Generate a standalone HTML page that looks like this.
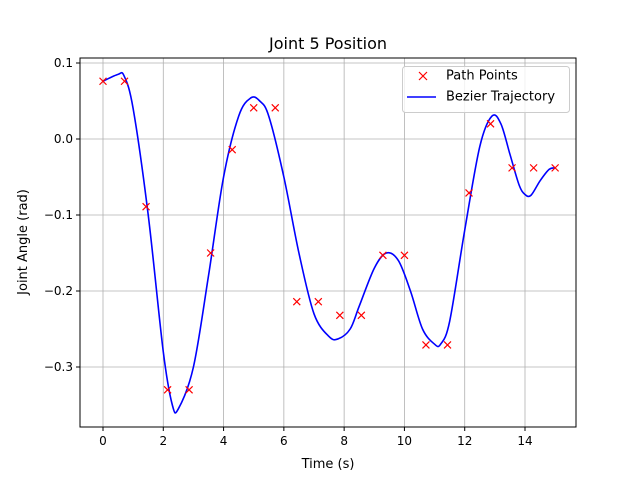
<!DOCTYPE html>
<html><head><meta charset="utf-8"><style>
body{margin:0;background:#fff;font-family:"Liberation Sans","DejaVu Sans",sans-serif}
svg text{font-family:"DejaVu Sans","Liberation Sans",sans-serif}
</style></head><body>
<svg id="chart" width="640" height="480" xmlns="http://www.w3.org/2000/svg">
<rect width="640" height="480" fill="#fff"/>
<g id="grid"></g><g id="series"></g><g id="axes"></g>
<text x="328" y="49" font-size="16" text-anchor="middle">Joint 5 Position</text>
<text x="328" y="468" font-size="13" text-anchor="middle">Time (s)</text>
<text transform="translate(27,242) rotate(-90)" font-size="13" text-anchor="middle">Joint Angle (rad)</text>
<g>
<rect x="402.5" y="66.5" width="167" height="46" fill="#fff" fill-opacity="0.8" stroke="#ccc" rx="3"/>
<path d="M419,72L427,80M419,80L427,72" stroke="red" stroke-width="1.2"/>
<text x="446" y="76" font-size="13" dominant-baseline="middle">Path Points</text>
<line x1="407" y1="97" x2="436" y2="97" stroke="blue" stroke-width="1.5"/>
<text x="446" y="97" font-size="13" dominant-baseline="middle">Bezier Trajectory</text>
</g>
</svg>
<script>
const xTicks=[0,2,4,6,8,10,12,14];
const yTicks=[0.1,0.0,-0.1,-0.2,-0.3];
const yTickLabels=["0.1","0.0","−0.1","−0.2","−0.3"];
const pointT=[0,0.714,1.429,2.143,2.857,3.571,4.286,5,5.714,6.429,7.143,7.857,8.571,9.286,10,10.714,11.429,12.143,12.857,13.571,14.286,15];
const pointY=[0.076,0.076,-0.089,-0.330,-0.330,-0.150,-0.014,0.041,0.041,-0.214,-0.214,-0.232,-0.232,-0.153,-0.153,-0.271,-0.271,-0.071,0.020,-0.038,-0.038,-0.038];
const curveT=[0,0.5,0.7,1,1.5,2,2.3,2.5,3,3.5,4,4.5,4.9,5.2,5.5,6,6.5,7,7.5,7.8,8.2,8.5,9,9.4,9.8,10.2,10.6,11,11.2,11.5,12,12.5,12.9,13.2,13.5,13.8,14,14.2,14.5,14.8,15];
const curveY=[0.076,0.085,0.083,0.04,-0.1,-0.28,-0.35,-0.355,-0.3,-0.18,-0.05,0.03,0.054,0.05,0.03,-0.05,-0.15,-0.23,-0.26,-0.263,-0.25,-0.22,-0.17,-0.15,-0.16,-0.2,-0.25,-0.27,-0.27,-0.24,-0.12,-0.01,0.03,0.02,-0.02,-0.06,-0.073,-0.074,-0.055,-0.04,-0.038];
const L=80,R=576,T=58,B=427;
const sx=v=>103+v*(525-103)/14;
const sy=v=>139-v*760;
const NS="http://www.w3.org/2000/svg";
function mk(p,tag,a){const e=document.createElementNS(NS,tag);for(const k in a)e.setAttribute(k,a[k]);p.appendChild(e);return e;}
const grid=document.getElementById('grid'),axes=document.getElementById('axes'),ser=document.getElementById('series');
xTicks.forEach(t=>{const x=sx(t);
const g=mk(grid,'line',{x1:x,x2:x,y1:T,y2:B,stroke:'#b0b0b0','stroke-width':0.8});


mk(axes,'line',{x1:x,x2:x,y1:B,y2:B+4,stroke:'#000'});
const tx=mk(axes,'text',{x:x,y:B+18,'font-size':12,'text-anchor':'middle'});tx.textContent=t;

});
yTicks.forEach((t,i)=>{const y=sy(t);
const g=mk(grid,'line',{x1:L,x2:R,y1:y,y2:y,stroke:'#b0b0b0','stroke-width':0.8});


mk(axes,'line',{x1:L-4,x2:L,y1:y,y2:y,stroke:'#000'});
const tx=mk(axes,'text',{x:L-7,y:y+4,'font-size':12,'text-anchor':'end'});tx.textContent=yTickLabels[i];

});
mk(axes,'rect',{x:L,y:T,width:R-L,height:B-T,fill:'none',stroke:'#000','stroke-width':1});
const P=curveT.map((t,i)=>[sx(t),sy(curveY[i])]);
let d=`M${P[0][0]},${P[0][1]}`;
for(let i=0;i<P.length-1;i++){const p0=P[Math.max(0,i-1)],p1=P[i],p2=P[i+1],p3=P[Math.min(P.length-1,i+2)];
d+=`C${p1[0]+(p2[0]-p0[0])/6},${p1[1]+(p2[1]-p0[1])/6} ${p2[0]-(p3[0]-p1[0])/6},${p2[1]-(p3[1]-p1[1])/6} ${p2[0]},${p2[1]}`;}
const pl=mk(ser,'path',{d:d,fill:'none',stroke:'blue','stroke-width':1.6});


pointT.forEach((t,i)=>{const x=sx(t),y=sy(pointY[i]),r=3.5;
const m=mk(ser,'path',{d:`M${x-r},${y-r}L${x+r},${y+r}M${x-r},${y+r}L${x+r},${y-r}`,stroke:'red','stroke-width':1.2});

});
</script>
</body></html>
